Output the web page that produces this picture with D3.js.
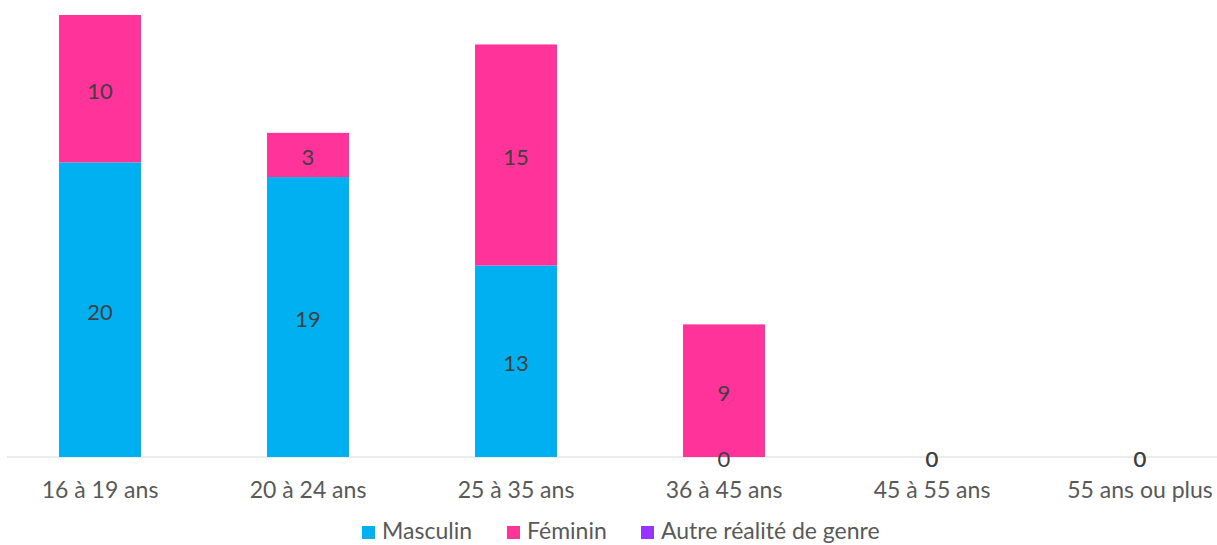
<!DOCTYPE html>
<html>
<head>
<meta charset="utf-8">
<script src="https://cdn.jsdelivr.net/npm/d3@7"></script>
<style>
  body { margin: 0; background: #ffffff; }
  svg { display: block; }
</style>
</head>
<body>
<svg id="Chart"></svg>
<script>
let categories = ["16 à 19 ans", "20 à 24 ans", "25 à 35 ans", "36 à 45 ans", "45 à 55 ans", "55 ans ou plus"]
let seriesNames = ["Masculin", "Féminin", "Autre réalité de genre"]
let masculin = [20, 19, 13, 0, 0, 0]
let feminin = [10, 3, 15, 9, 0, 0]
let autre = [0, 0, 0, 0, 0, 0]
let seriesColors = ["#00B0F0", "#FF3399", "#9933FF"]
let showLabels = [true, true, false]

let config = {}

function initConfig() {
    let width = 1217
    let height = 545
    let fontFamily = "Lato, 'Open Sans', sans-serif"
    let container = d3.select("#Chart")
        .attr("width", width)
        .attr("height", height)
    config = {width, height, container, fontFamily}
}

function buildRows() {
    return categories.map((c, i) => ({
        cat: c,
        "Masculin": masculin[i],
        "Féminin": feminin[i],
        "Autre réalité de genre": autre[i]
    }))
}

function drawChart() {
    let {container, fontFamily} = config
    let rows = buildRows()

    let x = d3.scaleBand()
        .domain(categories)
        .range([-4, 1244])
        .paddingInner(0.606)
        .paddingOuter(0.303)

    let y = d3.scaleLinear()
        .domain([0, 30])
        .range([457, 15])

    let stack = d3.stack().keys(seriesNames)(rows)

    // axis line
    container.append("line")
        .attr("x1", 7).attr("x2", 1217)
        .attr("y1", y(0)).attr("y2", y(0))
        .attr("stroke", "#d9d9d9")
        .attr("stroke-width", 1)

    let groups = container.selectAll("g.series").data(stack)
        .enter().append("g")
        .attr("class", "series")
        .attr("fill", (d, i) => seriesColors[i])

    groups.selectAll("rect").data(d => d)
        .enter().append("rect")
        .attr("x", d => x(d.data.cat))
        .attr("width", x.bandwidth())
        .attr("y", d => y(d[1]))
        .attr("height", d => y(d[0]) - y(d[1]))

    // data labels
    stack.forEach((s, i) => {
        if (!showLabels[i]) return
        container.append("g").selectAll("text").data(s)
            .enter().append("text")
            .attr("x", d => x(d.data.cat) + x.bandwidth() / 2)
            .attr("y", d => (y(d[0]) + y(d[1])) / 2 + 2)
            .attr("dy", "0.36em")
            .attr("text-anchor", "middle")
            .attr("font-family", fontFamily)
            .attr("font-size", "22px")
            .attr("fill", "#404040")
            .text(d => d[1] - d[0])
    })

    // category labels
    container.append("g").selectAll("text").data(categories)
        .enter().append("text")
        .attr("x", d => x(d) + x.bandwidth() / 2)
        .attr("y", 498)
        .attr("text-anchor", "middle")
        .attr("font-family", fontFamily)
        .attr("font-size", "23px")
        .attr("fill", "#595959")
        .text(d => d)

    drawLegend()
}

function drawLegend() {
    let {container, fontFamily} = config
    let itemX = [362, 507, 641]
    let legend = container.append("g")
    seriesNames.forEach((name, i) => {
        legend.append("rect")
            .attr("x", itemX[i])
            .attr("y", 526)
            .attr("width", 13)
            .attr("height", 13)
            .attr("fill", seriesColors[i])
        legend.append("text")
            .attr("x", itemX[i] + 20)
            .attr("y", 539)
            .attr("font-family", fontFamily)
            .attr("font-size", "23px")
            .attr("fill", "#595959")
            .text(name)
    })
}

initConfig()
drawChart()
</script>
</body>
</html>
